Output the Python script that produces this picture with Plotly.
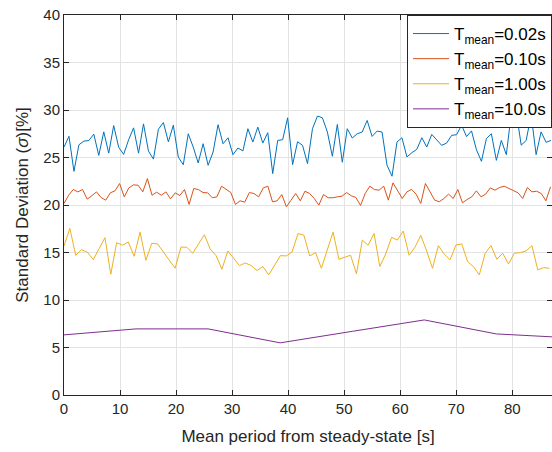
import numpy as np
import plotly.graph_objects as go

# ---- data ----
blue_step = 0.887
blue_y = [26.09, 27.24, 23.54, 26.34, 26.72, 26.79, 27.45, 25.22, 27.70, 25.46, 28.36, 26.09, 25.32, 26.86, 28.12,
          25.46, 28.54, 25.67, 24.83, 27.98, 28.68, 26.65, 28.40, 25.04, 24.24,
          27.50, 26.10, 24.43, 26.45, 24.18, 25.58, 28.45, 26.45, 27.08, 25.30, 26.00, 25.69, 28.03, 26.63, 28.20,
          26.52, 27.61, 23.31, 26.80, 26.87, 29.18, 24.25, 26.66, 26.28, 24.36,
          28.03, 29.36, 29.18, 27.68, 25.13, 28.48, 24.50, 28.03, 27.05, 27.50, 27.68, 28.90, 27.22, 27.78, 27.68,
          24.18, 23.03, 26.63, 27.08, 25.06, 25.51, 25.86, 27.08, 26.10, 27.43,
          26.80, 26.28, 26.52, 27.33, 27.40, 28.40, 27.20, 27.80, 25.80, 24.60, 27.00, 27.50, 24.70, 26.80, 25.30,
          29.60, 29.80, 26.30, 26.80, 29.50, 25.30, 27.70, 26.60, 26.80]

red_step = 0.827
red_y = [20.16, 21.03, 21.63, 21.38, 21.63, 20.62, 20.97, 21.38, 20.79, 20.51, 21.28, 21.49, 22.26, 20.86, 21.80,
         22.12, 22.08, 21.38, 22.78, 21.03, 21.35, 21.03, 21.38, 20.65, 21.28, 21.00, 21.63,
         20.06, 21.73, 21.63, 21.31, 21.28, 20.76, 20.86, 21.98, 21.63, 21.31, 20.06, 20.44, 20.30, 21.31, 21.21,
         20.86, 21.80, 21.98, 20.34, 20.44, 21.10, 19.81, 20.51, 21.21, 20.44, 21.45, 21.21,
         20.69, 19.99, 21.10, 20.76, 20.76, 20.86, 20.93, 21.31, 20.97, 20.79, 19.95, 21.21, 21.98, 21.63, 21.56,
         21.98, 20.51, 22.33, 21.56, 20.69, 21.38, 21.63, 21.14, 20.16, 22.26, 21.38, 20.51,
         20.34, 20.69, 21.14, 20.69, 21.63, 20.23, 20.58, 20.86, 21.49, 20.86, 21.14, 21.80, 21.56, 21.84, 21.98,
         21.73, 21.56, 21.28, 20.69, 21.84, 21.38, 21.45, 21.21, 20.44, 21.91]

yellow_step = 1.044
yellow_y = [15.69, 17.54, 14.71, 15.30, 15.02, 14.25, 15.41, 16.56, 12.71, 16.03, 15.76, 16.10, 14.60, 17.15, 14.18,
            15.97, 15.90, 15.06, 14.22, 13.34, 15.58,
            15.55, 14.92, 15.90, 16.87, 15.37, 14.67, 13.24, 15.16, 14.39, 13.62, 13.90, 13.62, 13.10, 13.52, 12.64,
            13.69, 14.67, 14.64, 15.06, 16.98, 16.84,
            14.64, 14.99, 13.34, 15.27, 17.15, 14.29, 14.50, 14.71, 12.75, 16.31, 15.76, 17.01, 13.52, 14.85, 16.59,
            16.31, 17.26, 14.71, 15.55, 16.80, 15.16, 13.34,
            15.72, 14.85, 14.22, 15.79, 15.90, 14.04, 13.52, 12.64, 14.92, 15.72, 14.29, 14.92, 13.80, 14.92, 14.99,
            15.16, 15.72, 13.17, 13.41, 13.34]

purple_step = 12.86
purple_y = [6.33, 6.96, 6.96, 5.49, 6.70, 7.90, 6.43, 6.03]

names = ["T<sub>mean</sub>=0.02s", "T<sub>mean</sub>=0.10s", "T<sub>mean</sub>=1.00s", "T<sub>mean</sub>=10.0s"]
colors = ["#0072BD", "#D95319", "#EDB120", "#7E2F8E"]

x_ticks = [0, 10, 20, 30, 40, 50, 60, 70, 80]
y_ticks = [0, 5, 10, 15, 20, 25, 30, 35, 40]

series = [(blue_step, blue_y), (red_step, red_y), (yellow_step, yellow_y), (purple_step, purple_y)]

fig = go.Figure()
for i, ((step, ys), name, col) in enumerate(zip(series, names, colors)):
    xs = np.arange(len(ys)) * step
    fig.add_trace(go.Scatter(x=xs, y=ys, mode="lines", name=name, legendgroup=f"g{i}",
                             line=dict(color=col, width=1)))

axis_common = dict(
    showline=True, linecolor="#262626", linewidth=1, mirror="ticks",
    ticks="inside", ticklen=5, tickcolor="#262626",
    showgrid=True, gridcolor="#e3e3e3", gridwidth=1, zeroline=False,
    tickfont=dict(family="Liberation Sans, Arial", size=15, color="#262626"),
)

fig.update_layout(
    width=552, height=452,
    margin=dict(l=64, r=0, t=15, b=57),
    paper_bgcolor="white", plot_bgcolor="white",
    font=dict(family="Liberation Sans, Arial", color="#262626"),
    xaxis=dict(range=[0, 87.1], tickvals=x_ticks,
               title=dict(text="Mean period from steady-state [s]",
                          font=dict(size=17, color="#262626"), standoff=14),
               **axis_common),
    yaxis=dict(range=[0, 40], tickvals=y_ticks,
               title=dict(text="Standard Deviation (<i>σ</i>)[%]",
                          font=dict(size=17, color="#262626"), standoff=10),
               **axis_common),
    legend=dict(x=1, y=1, xanchor="right", yanchor="top",
                bgcolor="white", bordercolor="#262626", borderwidth=1,
                font=dict(family="Liberation Sans, Arial", size=17, color="black"),
                itemwidth=36, tracegroupgap=0),
    showlegend=True,
)

fig.write_html("out.html", config={"displayModeBar": False},
               post_script="document.body.style.margin='0';document.body.style.overflow='hidden';")
